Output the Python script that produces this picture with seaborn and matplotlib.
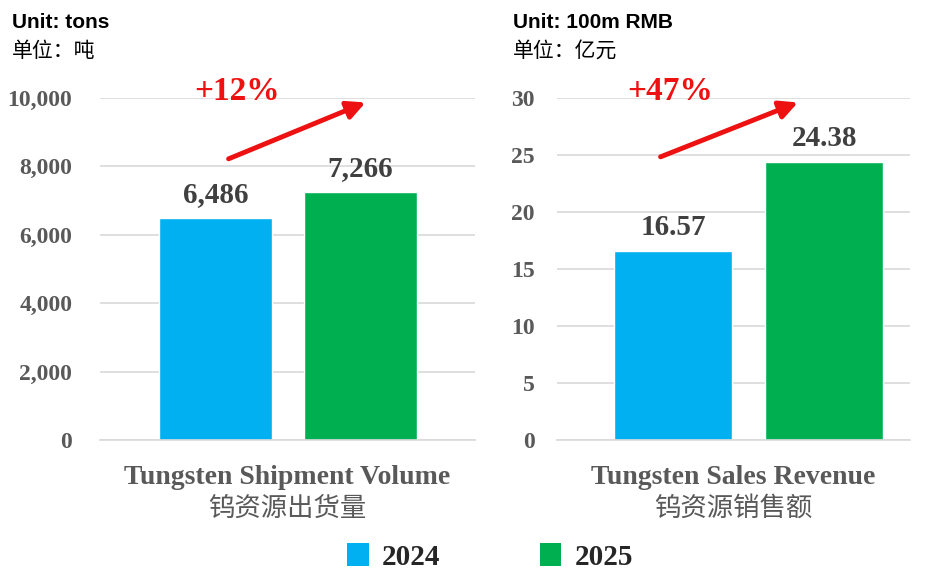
import matplotlib
matplotlib.use("Agg")
import matplotlib.pyplot as plt
import seaborn as sns
import pandas as pd
from matplotlib.patches import Patch

# data
years = ["2024", "2025"]
volume = [6486, 7266]
revenue = [16.57, 24.38]
volume_labels = ["6,486", "7,266"]
revenue_labels = ["16.57", "24.38"]
growth = ["+12%", "+47%"]
colors = ["#00B0F0", "#00B050"]

sns.set_theme(style="white")
serif = ["Liberation Serif", "Noto Sans CJK SC"]
cjk = ["Noto Sans CJK SC", "DejaVu Sans"]
plt.rcParams["font.family"] = serif

fig = plt.figure(figsize=(9.31, 5.75), dpi=100)
ax1 = fig.add_axes([100 / 931, 1 - 440 / 575, 375 / 931, 342 / 575])
ax2 = fig.add_axes([557 / 931, 1 - 440 / 575, 353 / 931, 342 / 575])

panels = [
    (ax1, volume, volume_labels, (0, 10000), range(0, 10001, 2000), "{:,.0f}", (-0.8, 1.79),
     "Unit: tons", "单位：吨", "Tungsten Shipment Volume", "钨资源出货量", growth[0],
     (0.336, 0.819), (0.715, 0.99), 0.365, 12 / 931, 20),
    (ax2, revenue, revenue_labels, (0, 30), range(0, 31, 5), "{:.0f}", (-0.77, 1.57),
     "Unit: 100m RMB", "单位：亿元", "Tungsten Sales Revenue", "钨资源销售额", growth[1],
     (0.286, 0.825), (0.69, 0.99), 0.32, 513 / 931, 16),
]

for (ax, vals, labs, ylim, ticks, fmt, xlim, unit_en, unit_cn, cat_en, cat_cn, g,
     a_start, a_end, g_x, unit_x, pad) in panels:
    df = pd.DataFrame({"year": years, "value": vals})
    sns.barplot(data=df, x="year", y="value", hue="year", palette=colors,
                width=0.78, legend=False, ax=ax, saturation=1)
    ax.set_ylim(*ylim)
    ax.set_xlim(*xlim)
    ax.set_yticks(list(ticks))
    ax.set_yticklabels([fmt.format(t) for t in ticks], fontsize=17, fontweight="bold",
                       color="#595959")
    ax.tick_params(axis="y", length=0, pad=pad)
    ax.set_xticks([])
    ax.set_xlabel("")
    ax.set_ylabel("")
    ax.grid(axis="y", color="#D9D9D9", linewidth=1.2)
    ax.set_axisbelow(True)
    for s in ["top", "right", "left"]:
        ax.spines[s].set_visible(False)
    ax.spines["bottom"].set_color("#D9D9D9")
    ax.spines["bottom"].set_linewidth(1.2)

    for i, (v, lab) in enumerate(zip(vals, labs)):
        ax.annotate(lab, (i, v), xytext=(0, 7), textcoords="offset points",
                    ha="center", va="bottom", fontsize=21, fontweight="bold",
                    color="#404040")

    ax.annotate("", xy=a_end, xytext=a_start, xycoords="axes fraction",
                textcoords="axes fraction",
                arrowprops=dict(arrowstyle="-|>,head_length=0.9,head_width=0.45",
                                color="#EE1111", lw=3.5))
    ax.text(g_x, 1.02, g, transform=ax.transAxes, ha="center", va="center",
            fontsize=24, fontweight="bold", color="#EE1111")

    fig.text(unit_x, 1 - 23 / 575, unit_en,
             family=["Liberation Sans", "DejaVu Sans"], fontsize=15, fontweight="bold",
             color="black", va="center")
    fig.text(unit_x, 1 - 51 / 575, unit_cn,
             family=cjk, fontsize=15, color="black", va="center")

    ax.text(0.5, -0.11, cat_en, transform=ax.transAxes, ha="center", va="center",
            fontsize=20, fontweight="bold", color="#595959")
    ax.text(0.5, -0.2, cat_cn, transform=ax.transAxes, ha="center", va="center",
            family=cjk, fontsize=19, color="#595959")

handles = [Patch(facecolor=c, edgecolor="none") for c in colors]
fig.legend(handles, years, loc="center", bbox_to_anchor=(490 / 931, 1 - 557 / 575),
           ncol=2, frameon=False, handlelength=0.75, handleheight=0.85,
           columnspacing=3.4, handletextpad=0.45, borderpad=0.2,
           prop={"family": serif, "size": 21, "weight": "bold"})

fig.savefig("out.png", dpi=100)
